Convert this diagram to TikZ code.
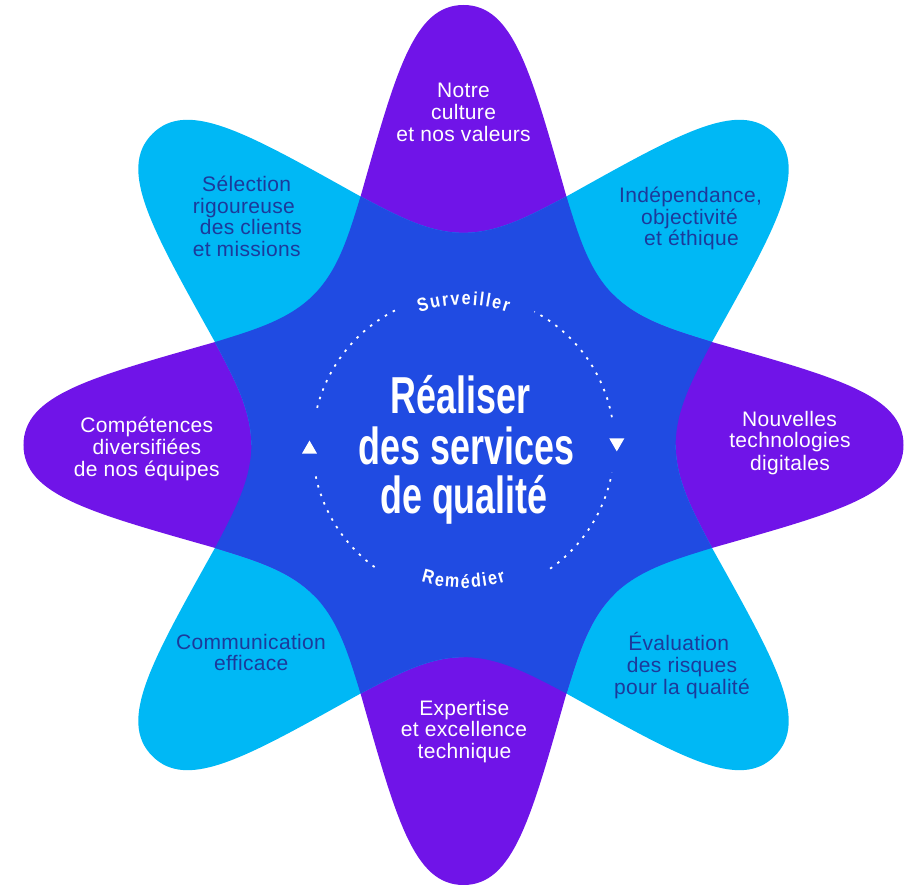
\documentclass[tikz,border=0pt]{standalone}
\usepackage{fontspec}
\setmainfont{Liberation Sans}
\newfontfamily\lblfont[LetterSpace=1.5]{Liberation Sans}
\newfontfamily\ttlfont[FakeStretch=0.69]{Liberation Sans}
\newfontfamily\arcfont[FakeStretch=0.85]{Liberation Sans}
\usetikzlibrary{shapes.geometric,decorations.text}
\definecolor{kpurple}{RGB}{112,20,232}
\definecolor{kcyan}{RGB}{0,184,245}
\definecolor{kblue}{RGB}{32,75,226}
\definecolor{knavy}{RGB}{28,58,155}
\newcommand\arcfmt{\arcfont\bfseries\fontsize{19}{19}\selectfont\fontdimen2\font=1.8pt\relax\color{white}}
\tikzset{
  lbl/.style={font=\lblfont\fontsize{21}{22}\selectfont, inner sep=0pt, anchor=base},
  onpurple/.style={lbl, text=white},
  oncyan/.style={lbl, text=knavy},
  ttl/.style={font=\ttlfont\bfseries\fontsize{52}{50}\selectfont, text=white, inner sep=0pt, anchor=base},
  dotc/.style={draw=white, line width=1.8pt, dash pattern=on 2.5pt off 6.5pt},
  tri/.style={regular polygon, regular polygon sides=3, fill=white, minimum size=17.3pt, inner sep=0pt},
}
\begin{document}
\begin{tikzpicture}[x=1pt,y=1pt]
\useasboundingbox (-463.5,-440) rectangle (451.5,445);
% petals
\foreach \j/\c in {0/kpurple,1/kcyan,2/kpurple,3/kcyan,4/kpurple,5/kcyan,6/kpurple,7/kcyan}
  \fill[\c, rotate=-45*\j] (-150,150) .. controls (-125,175) and (-115,209.6) .. (-102.94,248.52)
     .. controls (-67.6,372.8) and (-50,440) .. (0,440)
     .. controls (50,440) and (67.6,372.8) .. (102.94,248.52)
     .. controls (115,209.6) and (125,175) .. (150,150) -- (0,0) -- cycle;
% central overlap star
\fill[kblue] (67.5:269) \foreach \j in {0,...,7} {
   .. controls ({61.25-45*\j}:239.1) and ({54.46-45*\j}:215.1) .. ({45-45*\j}:212.13)
   .. controls ({35.54-45*\j}:215.1) and ({28.75-45*\j}:239.1) .. ({22.5-45*\j}:269) } -- cycle;
% dotted cycle
\draw[dotc] (117:151) arc[start angle=117, end angle=168, radius=151];
\draw[dotc] (192:151) arc[start angle=192, end angle=235, radius=151];
\draw[dotc] (305:151) arc[start angle=305, end angle=349.4, radius=151];
\draw[dotc] (10.6:151) arc[start angle=10.6, end angle=62, radius=151];
\node[tri] (up) at (-154,-4.2) {};
\node[tri, shape border rotate=180] (dn) at (153.3,2.2) {};
\path[decorate, decoration={text along path, text align=center,
   text={|\arcfmt|S u r v e i l l e r}}]
   (160:140) arc[start angle=160, end angle=20, radius=140];
\path[decorate, decoration={text along path, text align=center,
   text={|\arcfmt|R e m é d i e r}}]
   (200:143) arc[start angle=200, end angle=340, radius=143];
% title
\node[ttl] (t1) at (-3,31) {Réaliser};
\node[ttl] (t2) at (3,-20) {des services};
\node[ttl] (t3) at (0.5,-68.3) {de qualité};
% top
\node[onpurple] (a1) at (0,347) {Notre};
\node[onpurple] (a2) at (0,325) {culture};
\node[onpurple] (a3) at (0,303) {et nos valeurs};
% NE
\node[oncyan] (b1) at (227,242.3) {Indépendance,};
\node[oncyan] (b2) at (226,220.7) {objectivité};
\node[oncyan] (b3) at (228,199) {et éthique};
% right
\node[onpurple] (c1) at (326,18.3) {Nouvelles};
\node[onpurple] (c2) at (326.5,-2.3) {technologies};
\node[onpurple] (c3) at (326.5,-25.7) {digitales};
% SE
\node[oncyan] (d1) at (215.2,-206) {Évaluation};
\node[oncyan] (d2) at (218.5,-227.3) {des risques};
\node[oncyan] (d3) at (218.5,-249.3) {pour la qualité};
% bottom
\node[onpurple] (e1) at (0.8,-270) {Expertise};
\node[onpurple] (e2) at (0.5,-291.7) {et excellence};
\node[onpurple] (e3) at (1,-313.3) {technique};
% SW
\node[oncyan] (f1) at (-212.5,-204.3) {Communication};
\node[oncyan] (f2) at (-212.2,-225.7) {efficace};
% left
\node[onpurple] (g1) at (-316.7,12.3) {Compétences};
\node[onpurple] (g2) at (-316.5,-10) {diversifiées};
\node[onpurple] (g3) at (-316.7,-31.7) {de nos équipes};
% NW
\node[oncyan] (h1) at (-216.8,253.5) {Sélection};
\node[oncyan] (h2) at (-219.7,231.8) {rigoureuse};
\node[oncyan] (h3) at (-212.7,210.1) {des clients};
\node[oncyan] (h4) at (-216.8,188.4) {et missions};
\end{tikzpicture}
\end{document}
